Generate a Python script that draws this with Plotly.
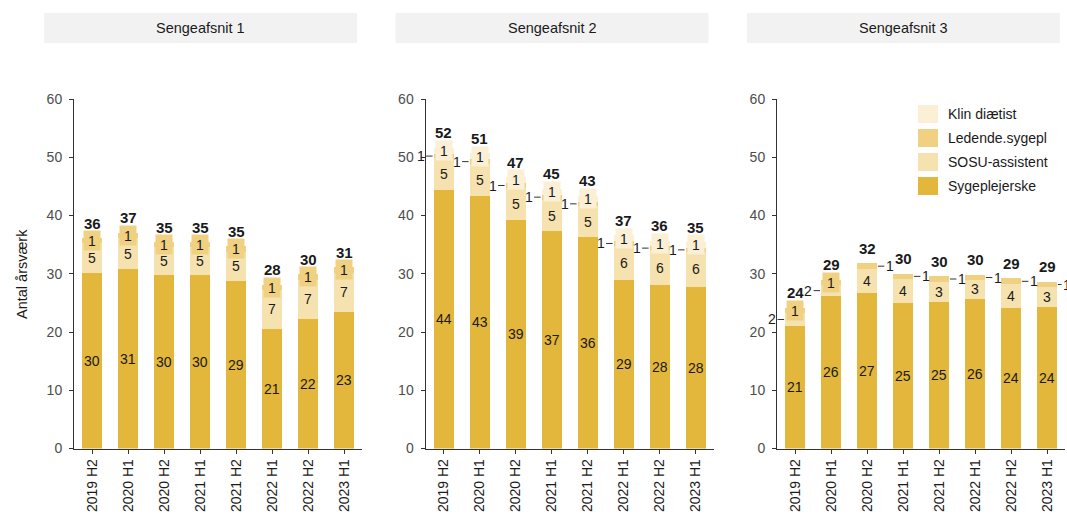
import plotly.graph_objects as go

# ---------------- data ----------------
periods = ["2019 H2", "2020 H1", "2020 H2", "2021 H1", "2021 H2", "2022 H1", "2022 H2", "2023 H1"]
panels = ["Sengeafsnit 1", "Sengeafsnit 2", "Sengeafsnit 3"]
series = ["Sygeplejerske", "SOSU-assistent", "Ledende.sygepl", "Klin diætist"]

sygepl_1 = [30.2, 30.8, 29.8, 29.8, 28.8, 20.6, 22.2, 23.4]
sosu_1 = [5.0, 5.3, 4.8, 4.8, 5.0, 6.6, 6.8, 6.8]
ledende_1 = [0.9, 0.9, 0.8, 0.8, 0.9, 0.9, 0.9, 0.9]
klin_1 = [0, 0, 0, 0, 0, 0, 0, 0]

sygepl_2 = [44.4, 43.4, 39.3, 37.3, 36.3, 28.9, 28.0, 27.8]
sosu_2 = [5.4, 5.4, 5.4, 5.4, 5.3, 5.9, 6.0, 5.9]
ledende_2 = [0.8, 0.9, 0.9, 0.9, 0.8, 0.8, 0.8, 0.8]
klin_2 = [1.0, 1.0, 1.0, 1.0, 1.0, 1.0, 0.9, 0.9]

sygepl_3 = [21.1, 26.2, 26.7, 25.0, 25.2, 25.7, 24.2, 24.3]
sosu_3 = [2.1, 1.8, 4.1, 4.1, 3.4, 3.2, 4.0, 3.4]
ledende_3 = [1.0, 1.0, 1.0, 0.9, 1.0, 0.9, 1.0, 0.9]
klin_3 = [0, 0, 0, 0, 0, 0, 0, 0]

panel_data = [
    [sygepl_1, sosu_1, ledende_1, klin_1],
    [sygepl_2, sosu_2, ledende_2, klin_2],
    [sygepl_3, sosu_3, ledende_3, klin_3],
]

y_ticks = [0, 10, 20, 30, 40, 50, 60]

# ---------------- style ----------------
colors = {
    "Sygeplejerske": "#E3B63C",
    "SOSU-assistent": "#F5E2AE",
    "Ledende.sygepl": "#F0D182",
    "Klin diætist": "#FBF0D5",
}
FONT = "Liberation Sans, Arial, sans-serif"
W, H = 1067, 517
BAR_W = 0.55

def px_x(p):
    return p / W

def px_y(p):
    return (H - p) / H

panel_x_px = [(74, 362), (425.5, 713.5), (777, 1065)]
strip_x_px = [(44, 357), (395.5, 708.5), (747, 1060)]
y_dom = [px_y(448.5), px_y(99)]

# label modes per panel / series
def label_mode(p, s, i, vals):
    if s == "Sygeplejerske":
        return "in"
    if p == 0:
        return {"SOSU-assistent": "in", "Ledende.sygepl": "box", "Klin diætist": "none"}[s]
    if p == 1:
        return {"SOSU-assistent": "in", "Ledende.sygepl": "left", "Klin diætist": "box"}[s]
    # panel 3
    small_sosu = vals[1][i] < 2.5
    if s == "SOSU-assistent":
        return "left" if small_sosu else "in"
    if s == "Ledende.sygepl":
        return "box" if small_sosu else "right"
    return "none"

fig = go.Figure()
annotations = []
shapes = []

for p, name in enumerate(panels):
    suffix = "" if p == 0 else str(p + 1)
    xa, ya = "x" + suffix, "y" + suffix
    vals = panel_data[p]
    for s_idx, s in enumerate(series):
        fig.add_trace(go.Bar(
            x=list(range(len(periods))), y=vals[s_idx], name=s,
            marker=dict(color=colors[s], line=dict(width=0)),
            width=BAR_W, xaxis=xa, yaxis=ya, showlegend=False,
            hoverinfo="skip",
        ))
    # labels
    for i in range(len(periods)):
        cum = 0.0
        for s_idx, s in enumerate(series):
            v = vals[s_idx][i]
            lo = cum
            cum += v
            if v <= 0:
                continue
            mode = label_mode(p, s, i, vals)
            if mode == "none":
                continue
            mid = (lo + cum) / 2
            txt = f"{v:.0f}"
            base = dict(xref=xa, yref=ya, text=txt,
                        font=dict(family=FONT, size=14, color="#1A1A1A"))
            if mode == "in":
                annotations.append(dict(base, x=i, y=mid, showarrow=False,
                                        xanchor="center", yanchor="middle"))
            elif mode == "box":
                annotations.append(dict(base, x=i, y=mid, showarrow=False,
                                        xanchor="center", yanchor="middle",
                                        bgcolor=colors[s], borderpad=1,
                                        width=14, height=17))
            elif mode in ("left", "right"):
                sign = -1 if mode == "left" else 1
                annotations.append(dict(base, x=i + sign * BAR_W / 2, y=mid,
                                        showarrow=True, arrowhead=0, arrowwidth=1,
                                        arrowcolor="#333333", ax=sign * 13, ay=0,
                                        standoff=1))
        total = sum(vals[k][i] for k in range(len(series)))
        annotations.append(dict(xref=xa, yref=ya, x=i, y=total, text=f"<b>{total:.0f}</b>",
                                showarrow=False, xanchor="center", yanchor="middle", yshift=15,
                                font=dict(family=FONT, size=15, color="#1A1A1A")))

    x0, x1 = panel_x_px[p]
    fig.layout["xaxis" + suffix] = dict(
        domain=[px_x(x0), px_x(x1)], anchor=ya, range=[-0.5, 7.5],
        tickmode="array", tickvals=list(range(len(periods))), ticktext=periods,
        tickangle=-90, ticks="outside", ticklen=4, tickcolor="#333333",
        showline=True, linecolor="#333333", linewidth=1, showgrid=False,
        zeroline=False, tickfont=dict(family=FONT, size=14, color="#1A1A1A"),
        fixedrange=True, automargin=False,
    )
    fig.layout["yaxis" + suffix] = dict(
        domain=y_dom, anchor=xa, range=[0, 60], tickvals=y_ticks,
        ticks="outside", ticklen=4, tickcolor="#333333",
        showline=True, linecolor="#333333", linewidth=1, showgrid=False,
        zeroline=False, tickfont=dict(family=FONT, size=14, color="#4D4D4D"),
        ticklabelstandoff=4, fixedrange=True, automargin=False,
    )
    # strip
    sx0, sx1 = strip_x_px[p]
    shapes.append(dict(type="rect", xref="paper", yref="paper",
                       x0=px_x(sx0), x1=px_x(sx1), y0=px_y(43), y1=px_y(13),
                       fillcolor="#F2F2F2", line=dict(width=0), layer="below"))
    annotations.append(dict(xref="paper", yref="paper", x=px_x((sx0 + sx1) / 2), y=px_y(28),
                            xanchor="center", yanchor="middle",
                            text=name, showarrow=False,
                            font=dict(family=FONT, size=14.5, color="#1A1A1A")))

# y axis title
annotations.append(dict(xref="paper", yref="paper", x=px_x(22), y=px_y(274),
                        xanchor="center", yanchor="middle",
                        text="Antal årsværk", textangle=-90, showarrow=False,
                        font=dict(family=FONT, size=14.5, color="#1A1A1A")))

# manual legend
legend_order = ["Klin diætist", "Ledende.sygepl", "SOSU-assistent", "Sygeplejerske"]
for k, s in enumerate(legend_order):
    cy = 114 + k * 24
    shapes.append(dict(type="rect", xref="paper", yref="paper",
                       x0=px_x(918), x1=px_x(938), y0=px_y(cy + 9), y1=px_y(cy - 9),
                       fillcolor=colors[s], line=dict(width=0)))
    annotations.append(dict(xref="paper", yref="paper", x=px_x(946), y=px_y(cy),
                            xanchor="left", yanchor="middle", text=s, showarrow=False,
                            font=dict(family=FONT, size=14, color="#1A1A1A")))

fig.update_layout(
    width=W, height=H, autosize=False,
    margin=dict(l=0, r=0, t=0, b=0, autoexpand=False),
    paper_bgcolor="white", plot_bgcolor="white",
    barmode="stack", bargap=0,
    annotations=annotations, shapes=shapes,
    showlegend=False,
    font=dict(family=FONT),
)

fig.write_html("out.html", config={"displayModeBar": False},
               post_script="document.body.style.margin='0';document.body.style.overflow='hidden';")
